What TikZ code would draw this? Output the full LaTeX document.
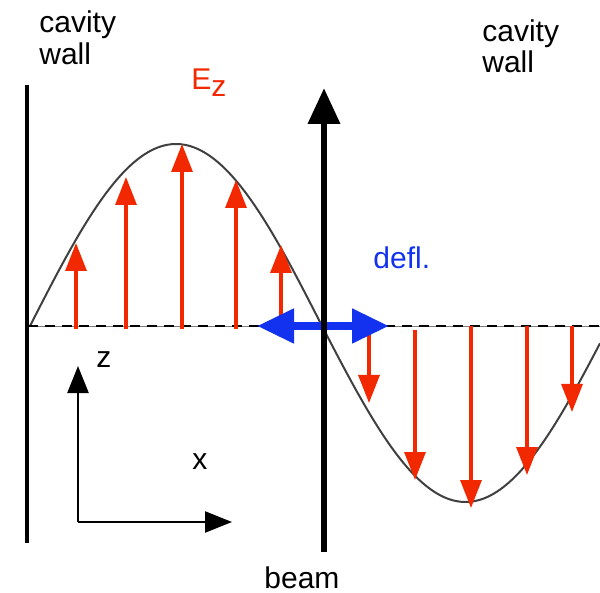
\documentclass[tikz,border=0pt]{standalone}
\usepackage{fontspec}
\setmainfont{Liberation Sans}
\usetikzlibrary{arrows.meta}
\definecolor{fieldred}{RGB}{242,40,0}
\definecolor{deflblue}{RGB}{18,50,240}
\tikzset{
  lbl/.style={inner sep=0pt, anchor=base west, font=\fontsize{15}{16}\selectfont},
  fieldarrow/.style={draw=fieldred, line width=1.6pt, -{Triangle[width=10.5pt,length=14pt]}, fieldred},
  axisarrow/.style={line width=1.2pt, -{Triangle[width=10.5pt,length=13.5pt]}},
}
\begin{document}
\begin{tikzpicture}[x=0.5pt,y=-0.5pt]
\useasboundingbox (0,0) rectangle (600,593);
% cavity wall
\draw[line width=2pt] (27,85) -- (27,543);
% field curve
\draw[line width=1pt, black!75] plot[domain=30:322, samples=90, smooth] (\x,{326-182*sin((\x-30)/292*180)});
\draw[line width=1pt, black!75] plot[domain=322:600, samples=90, smooth] (\x,{326+176*sin((\x-322)/287*180)});
% baseline
\coordinate (b0) at (28,326);
\coordinate (b1) at (600,326);
\draw[line width=0.4pt, black!50] (b0) -- (b1);
\draw[line width=1pt, dash pattern=on 5pt off 3.5pt] (b0) -- (b1);
% up arrows
\foreach \xx/\yy in {76/243, 126/177, 182/144, 236/180, 281/245}
  \draw[fieldarrow] (\xx,329) -- (\xx,\yy);
% down arrows
\foreach \xx/\ys/\yy in {369/326/403, 415/330/480, 471/326/508, 527/326/475, 572/326/412}
  \draw[fieldarrow] (\xx,\ys) -- (\xx,\yy);
% deflection arrow
\coordinate (dl) at (257,326);
\coordinate (dr) at (389,326);
\draw[deflblue, line width=4pt, {Triangle[width=16.5pt,length=18.5pt]}-{Triangle[width=16.5pt,length=18.5pt]}] (dl) -- (dr);
% beam
\coordinate (beam0) at (324,552);
\coordinate (beam1) at (324,88);
\draw[line width=3.4pt, -{Triangle[width=15.5pt,length=18pt]}] (beam0) -- (beam1);
% axes
\coordinate (o) at (78,522);
\coordinate (zt) at (78,366);
\coordinate (xt) at (232,522);
\draw[axisarrow] (o) -- (zt);
\draw[axisarrow] (o) -- (xt);
% labels
\node[lbl] (cw1) at (39,33) {cavity};
\node[lbl] (cw2) at (39,65) {wall};
\node[lbl] (cw3) at (482,42) {cavity};
\node[lbl] (cw4) at (482,73) {wall};
\node[lbl, text=fieldred] (ez) at (191,90) {E\raisebox{-3.5pt}{z}};
\node[lbl, text=deflblue] (defl) at (373,269) {defl.};
\node[lbl] (zl) at (96,368) {z};
\node[lbl] (xl) at (192,469) {x};
\node[lbl] (bl) at (264,588) {beam};
\end{tikzpicture}
\end{document}
